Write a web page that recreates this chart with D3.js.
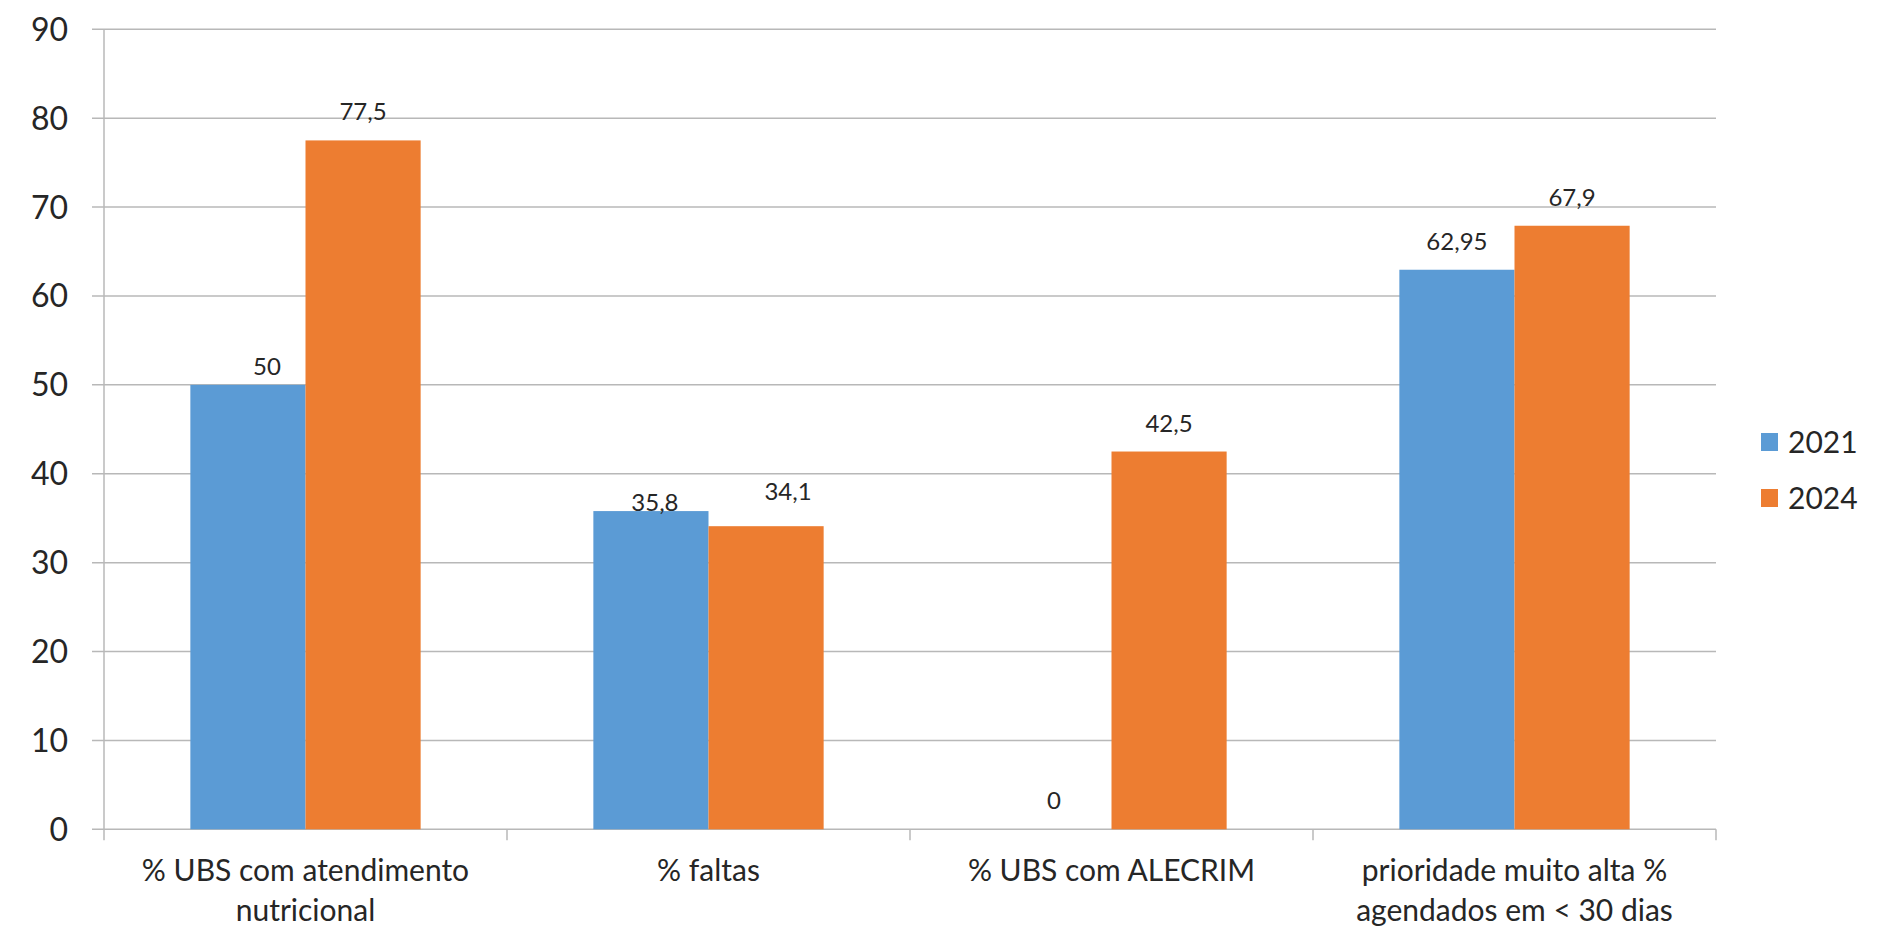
<!DOCTYPE html>
<html>
<head>
<meta charset="utf-8">
<script src="https://cdn.jsdelivr.net/npm/d3@7"></script>
<style>
  body { margin: 0; background: #fff; }
  svg { display: block; }
  text { font-family: Lato, "Open Sans", sans-serif; fill: #262626; }
</style>
</head>
<body>
<svg id="chart" width="1887" height="928"></svg>
<script>
// ---- data ----
const categories = [
  ["% UBS com atendimento", "nutricional"],
  ["% faltas"],
  ["% UBS com ALECRIM"],
  ["prioridade muito alta %", "agendados em < 30 dias"]
];
const seriesNames = ["2021", "2024"];
const values2021 = [50, 35.8, 0, 62.95];
const values2024 = [77.5, 34.1, 42.5, 67.9];
const yTicks = [0, 10, 20, 30, 40, 50, 60, 70, 80, 90];
// manual label nudges (as placed in the original)
const nudge2021 = [[19, 10], [4, 20], [0, 0], [0, 0]];
const nudge2024 = [[0, 0], [22, -6], [0, 0], [0, 0]];

const colors = { "2021": "#5B9BD5", "2024": "#ED7D31" };

// ---- layout ----
const W = 1887, H = 928;
const margin = { top: 29.3, right: 171, bottom: 98.7, left: 104 };
const svg = d3.select("#chart");

const catKeys = categories.map(c => c.join(" "));
const x0 = d3.scaleBand().domain(catKeys).range([margin.left, W - margin.right]).padding(0);
const bw = x0.bandwidth() / 3.5; // gap width 150%
const x1 = d3.scaleBand().domain(seriesNames).range([0.75 * bw, 2.75 * bw]).padding(0);
const y = d3.scaleLinear().domain([0, 90]).range([H - margin.bottom, margin.top]);

const fmt = v => d3.formatLocale({ decimal: ",", thousands: ".", grouping: [3], currency: ["", ""] }).format("~g")(v);

// gridlines + y ticks
const gridColor = "#b8b8b8";
svg.append("g").selectAll("line").data(yTicks).join("line")
  .attr("x1", margin.left - 12).attr("x2", W - margin.right)
  .attr("y1", d => y(d)).attr("y2", d => y(d))
  .attr("stroke", gridColor).attr("stroke-width", 1.5);

// y axis line
svg.append("line")
  .attr("x1", margin.left).attr("x2", margin.left)
  .attr("y1", y(90)).attr("y2", y(0) + 11)
  .attr("stroke", gridColor).attr("stroke-width", 1.5);

// y labels
svg.append("g").selectAll("text").data(yTicks).join("text")
  .attr("x", margin.left - 36).attr("y", d => y(d))
  .attr("dy", "0.36em").attr("text-anchor", "end")
  .style("font-size", "32px").text(d => d);

// category ticks
const bounds = catKeys.map(k => x0(k)).concat([x0(catKeys[catKeys.length - 1]) + x0.bandwidth()]);
svg.append("g").selectAll("line").data(bounds.slice(1)).join("line")
  .attr("x1", d => d).attr("x2", d => d)
  .attr("y1", y(0)).attr("y2", y(0) + 11)
  .attr("stroke", gridColor).attr("stroke-width", 1.5);

// bars
const rows = categories.map((c, i) => ({
  key: catKeys[i],
  items: [
    { s: "2021", v: values2021[i], n: nudge2021[i] },
    { s: "2024", v: values2024[i], n: nudge2024[i] }
  ]
}));

const g = svg.append("g").selectAll("g").data(rows).join("g")
  .attr("transform", d => `translate(${x0(d.key)},0)`);

g.selectAll("rect").data(d => d.items.filter(it => it.v > 0)).join("rect")
  .attr("x", d => x1(d.s)).attr("width", x1.bandwidth())
  .attr("y", d => y(d.v)).attr("height", d => y(0) - y(d.v))
  .attr("fill", d => colors[d.s]);

g.selectAll("text.val").data(d => d.items).join("text")
  .attr("class", "val")
  .attr("x", d => x1(d.s) + x1.bandwidth() / 2 + d.n[0])
  .attr("y", d => y(d.v) - 20 + d.n[1])
  .attr("text-anchor", "middle")
  .style("font-size", "24px")
  .text(d => fmt(d.v));

// category labels
svg.append("g").selectAll("text").data(categories).join("text")
  .attr("x", (d, i) => x0(catKeys[i]) + x0.bandwidth() / 2)
  .attr("y", y(0) + 52)
  .attr("text-anchor", "middle")
  .style("font-size", "30px")
  .each(function(d) {
    const t = d3.select(this);
    d.forEach((line, j) => {
      t.append("tspan").attr("x", t.attr("x")).attr("dy", j === 0 ? 0 : 40).text(line);
    });
  });

// legend
const legend = svg.append("g").selectAll("g").data(seriesNames).join("g")
  .attr("transform", (d, i) => `translate(1761, ${442 + i * 56})`);
legend.append("rect").attr("x", 0).attr("y", -9).attr("width", 17).attr("height", 18)
  .attr("fill", d => colors[d]);
legend.append("text").attr("x", 27).attr("y", 0).attr("dy", "0.36em")
  .style("font-size", "30px").text(d => d);
</script>
</body>
</html>
